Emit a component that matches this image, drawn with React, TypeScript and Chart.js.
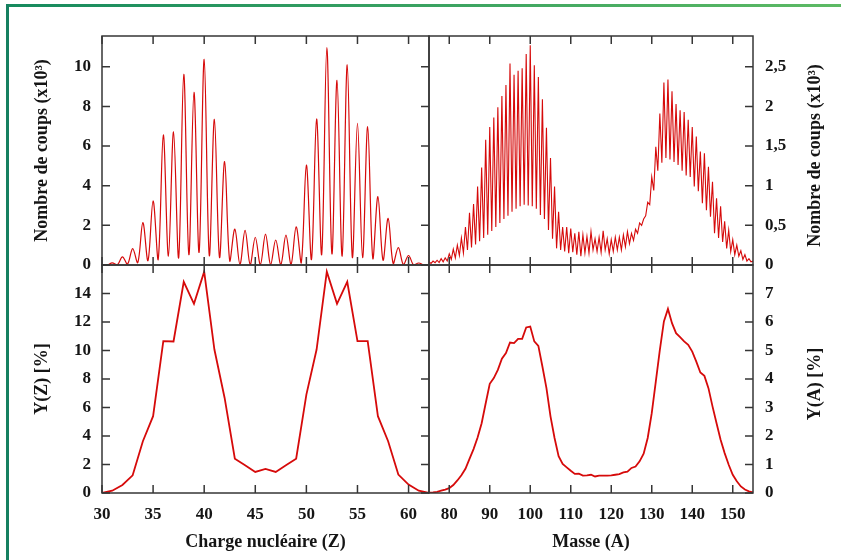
import React, { useEffect, useRef } from "react";
import { Chart, registerables } from "chart.js";

Chart.register(...registerables);

// ---------- data ----------
// Charge nucléaire (Z)
const Z_VALUES = [30, 31, 32, 33, 34, 35, 36, 37, 38, 39, 40, 41, 42, 43, 44, 45, 46, 47, 48, 49, 50, 51, 52, 53, 54, 55, 56, 57, 58, 59, 60, 61, 62];
// counts (x10^3) at each integer Z (peak of the spectrum)
const Z_COUNTS_PEAK = [0.02, 0.11, 0.41, 0.83, 2.14, 3.24, 6.56, 6.71, 9.62, 8.71, 10.37, 7.35, 5.22, 1.81, 1.75, 1.4, 1.56, 1.26, 1.51, 1.93, 5.04, 7.36, 10.97, 9.31, 10.09, 7.14, 6.98, 3.45, 2.35, 0.88, 0.48, 0.1, 0];
// counts (x10^3) in the valley between Z and Z+1
const Z_COUNTS_VALLEY = [0, 0.01, 0.05, 0.12, 0.22, 0.28, 0.45, 0.36, 0.52, 0.64, 0.48, 0.38, 0.2, 0.03, 0.02, 0.02, 0.01, 0.02, 0.03, 0.1, 0.28, 0.54, 0.56, 0.45, 0.38, 0.37, 0.33, 0.24, 0.07, 0.02, 0, 0];
// Y(Z) in %
const YIELD_Z = [0.0, 0.16, 0.56, 1.24, 3.63, 5.39, 10.66, 10.63, 14.82, 13.28, 15.53, 10.07, 6.67, 2.41, 1.94, 1.48, 1.69, 1.48, 1.94, 2.41, 6.9, 10.07, 15.53, 13.28, 14.82, 10.66, 10.66, 5.39, 3.63, 1.29, 0.59, 0.16, 0.0];

// Masse (A)
const A_VALUES = [75, 76, 77, 78, 79, 80, 81, 82, 83, 84, 85, 86, 87, 88, 89, 90, 91, 92, 93, 94, 95, 96, 97, 98, 99, 100, 101, 102, 103, 104, 105, 106, 107, 108, 109, 110, 111, 112, 113, 114, 115, 116, 117, 118, 119, 120, 121, 122, 123, 124, 125, 126, 127, 128, 129, 130, 131, 132, 133, 134, 135, 136, 137, 138, 139, 140, 141, 142, 143, 144, 145, 146, 147, 148, 149, 150, 151, 152, 153, 154, 155];
// counts (x10^3) at each integer A (peak)
const A_COUNTS_PEAK = [0.04, 0.05, 0.06, 0.08, 0.09, 0.14, 0.2, 0.25, 0.34, 0.48, 0.66, 0.77, 0.99, 1.23, 1.58, 1.74, 1.86, 1.99, 2.13, 2.27, 2.54, 2.4, 2.45, 2.48, 2.66, 2.77, 2.52, 2.37, 2.09, 1.73, 1.35, 0.99, 0.67, 0.48, 0.48, 0.46, 0.4, 0.42, 0.38, 0.36, 0.42, 0.33, 0.35, 0.43, 0.33, 0.32, 0.35, 0.35, 0.38, 0.42, 0.4, 0.45, 0.53, 0.58, 0.79, 1.11, 1.49, 1.91, 2.3, 2.34, 2.19, 2.03, 1.95, 1.93, 1.83, 1.74, 1.62, 1.43, 1.41, 1.24, 1.05, 0.84, 0.74, 0.55, 0.44, 0.32, 0.25, 0.18, 0.13, 0.08, 0.05];
// counts (x10^3) in the valley between A and A+1
const A_COUNTS_VALLEY = [0.02, 0.03, 0.03, 0.04, 0.05, 0.07, 0.09, 0.12, 0.15, 0.19, 0.22, 0.26, 0.3, 0.34, 0.38, 0.43, 0.48, 0.53, 0.58, 0.62, 0.67, 0.71, 0.74, 0.76, 0.75, 0.74, 0.71, 0.63, 0.58, 0.44, 0.33, 0.21, 0.19, 0.17, 0.15, 0.16, 0.13, 0.11, 0.15, 0.15, 0.19, 0.17, 0.16, 0.19, 0.14, 0.17, 0.19, 0.19, 0.23, 0.27, 0.31, 0.4, 0.5, 0.62, 0.76, 0.94, 1.19, 1.29, 1.35, 1.33, 1.3, 1.26, 1.19, 1.13, 1.11, 0.99, 0.93, 0.78, 0.69, 0.61, 0.4, 0.34, 0.29, 0.21, 0.17, 0.13, 0.11, 0.07, 0.05, 0.04];
// Y(A) in %
const YIELD_A = [0.01, 0.02, 0.04, 0.08, 0.12, 0.17, 0.28, 0.44, 0.62, 0.85, 1.2, 1.54, 1.95, 2.45, 3.15, 3.83, 4.03, 4.32, 4.71, 4.91, 5.28, 5.26, 5.41, 5.41, 5.81, 5.84, 5.32, 5.16, 4.44, 3.68, 2.69, 1.93, 1.29, 1.02, 0.9, 0.78, 0.67, 0.68, 0.61, 0.62, 0.64, 0.58, 0.61, 0.61, 0.61, 0.62, 0.64, 0.66, 0.72, 0.75, 0.88, 0.93, 1.11, 1.38, 1.93, 2.8, 3.91, 5.02, 6.02, 6.46, 5.96, 5.61, 5.47, 5.32, 5.2, 4.96, 4.61, 4.23, 4.11, 3.68, 3.04, 2.45, 1.87, 1.4, 0.99, 0.64, 0.41, 0.23, 0.12, 0.06, 0.02];

// tick values
const Z_TICKS = [30, 35, 40, 45, 50, 55, 60];
const A_TICKS = [80, 90, 100, 110, 120, 130, 140, 150];
const COUNTS_Z_TICKS = [0, 2, 4, 6, 8, 10];
const COUNTS_A_TICKS = [0, 0.5, 1, 1.5, 2, 2.5];
const YIELD_Z_TICKS = [0, 2, 4, 6, 8, 10, 12, 14];
const YIELD_A_TICKS = [0, 1, 2, 3, 4, 5, 6, 7];

// ---------- styles ----------
const FONT_FAMILY = "'Liberation Serif', 'Times New Roman', serif";
const RED = "#d60a0a";
const AXIS = "#363636";
const TEXT = "#151515";
const W = 841;
const H = 560;

function spectrum(xs: number[], peaks: number[], valleys: number[]) {
  const pts: { x: number; y: number }[] = [];
  xs.forEach((x, i) => {
    pts.push({ x, y: peaks[i] });
    if (i < valleys.length && i < xs.length - 1) {
      pts.push({ x: (x + xs[i + 1]) / 2, y: valleys[i] });
    }
  });
  return pts;
}

function pairs(xs: number[], ys: number[]) {
  return xs.map((x, i) => ({ x, y: ys[i] }));
}

const fmt = (v: number | string) => String(v).replace(".", ",");

const boxTicksPlugin = {
  id: "boxTicks",
  afterDatasetsDraw(chart: any, _args: any, o: any) {
    const { ctx, chartArea: a, scales } = chart;
    const len = o.tickLen;
    ctx.save();
    ctx.strokeStyle = AXIS;
    ctx.lineWidth = 1.5;
    ctx.beginPath();
    const xs = scales.x;
    const ys = scales.y;
    for (const t of xs.ticks) {
      const p = xs.getPixelForValue(t.value);
      if (o.bottom) {
        ctx.moveTo(p, a.bottom);
        ctx.lineTo(p, a.bottom - len);
      }
      if (o.top) {
        ctx.moveTo(p, a.top);
        ctx.lineTo(p, a.top + len);
      }
    }
    for (const t of ys.ticks) {
      const p = ys.getPixelForValue(t.value);
      if (o.left) {
        ctx.moveTo(a.left, p);
        ctx.lineTo(a.left + len, p);
      }
      if (o.right) {
        ctx.moveTo(a.right, p);
        ctx.lineTo(a.right - len, p);
      }
    }
    ctx.stroke();
    ctx.strokeRect(a.left, a.top, a.right - a.left, a.bottom - a.top);
    ctx.restore();
  },
};

const sideTitlePlugin = {
  id: "sideTitle",
  afterDraw(chart: any, _args: any, o: any) {
    if (!o.text) return;
    const { ctx, chartArea: a } = chart;
    ctx.save();
    ctx.font = `bold 18px ${FONT_FAMILY}`;
    ctx.fillStyle = TEXT;
    ctx.textAlign = "center";
    ctx.textBaseline = "middle";
    ctx.translate(a.right + o.dx, (a.top + a.bottom) / 2 + o.dy);
    ctx.rotate(-Math.PI / 2);
    ctx.fillText(o.text, 0, 0);
    ctx.restore();
  },
};

type PanelSpec = {
  data: { x: number; y: number }[];
  lineWidth: number;
  tension: number;
  xMin: number;
  xMax: number;
  xTicks: number[];
  yMax: number;
  yTicks: number[];
  yPos: "left" | "right";
  padding: { left: number; right: number; top: number; bottom: number };
  yWidth: number;
  xHeight: number;
  showX: boolean;
  xTitle?: string;
  yTitle?: string;
  rightTitle?: string;
  box: { top: boolean; bottom: boolean; left: boolean; right: boolean };
};

const tickFont = { family: FONT_FAMILY, size: 17, weight: "bold" as const };
const titleFont = { family: FONT_FAMILY, size: 18, weight: "bold" as const };

function makeConfig(p: PanelSpec): any {
  return {
    type: "line",
    data: {
      datasets: [
        {
          data: p.data,
          borderColor: RED,
          borderWidth: p.lineWidth,
          pointRadius: 0,
          tension: p.tension,
          fill: false,
        },
      ],
    },
    plugins: [boxTicksPlugin, sideTitlePlugin],
    options: {
      responsive: false,
      animation: false,
      devicePixelRatio: 1,
      events: [],
      layout: { padding: p.padding },
      plugins: {
        legend: { display: false },
        tooltip: { enabled: false },
        boxTicks: { tickLen: 8, ...p.box },
        sideTitle: { text: p.rightTitle || "", dx: 62, dy: 5 },
      },
      scales: {
        x: {
          type: "linear",
          position: "bottom",
          min: p.xMin,
          max: p.xMax,
          afterBuildTicks: (s: any) => {
            s.ticks = p.xTicks.map((v) => ({ value: v }));
          },
          afterFit: (s: any) => {
            s.height = p.xHeight;
          },
          grid: { display: false, drawTicks: false },
          border: { display: false },
          ticks: {
            display: p.showX,
            padding: 11,
            autoSkip: false,
            maxRotation: 0,
            font: tickFont,
            color: TEXT,
            callback: (v: number) => fmt(v),
          },
          title: {
            display: !!p.xTitle,
            text: p.xTitle || "",
            font: titleFont,
            color: TEXT,
            padding: { top: 0, bottom: 7 },
          },
        },
        y: {
          type: "linear",
          position: p.yPos,
          min: 0,
          max: p.yMax,
          afterBuildTicks: (s: any) => {
            s.ticks = p.yTicks.map((v) => ({ value: v }));
          },
          afterFit: (s: any) => {
            s.width = p.yWidth;
          },
          grid: { display: false, drawTicks: false },
          border: { display: false },
          ticks: {
            padding: p.yPos === "left" ? 11 : 12,
            autoSkip: false,
            font: tickFont,
            color: TEXT,
            callback: (v: number) => fmt(v),
          },
          title: {
            display: !!p.yTitle,
            text: p.yTitle || "",
            font: titleFont,
            color: TEXT,
            padding: { top: 32, bottom: 0 },
          },
        },
      },
    },
  };
}

// layout of the four panels (chart-area edges in page pixels)
const LEFT = 102;
const MID = 429;
const RIGHT = 753;
const TOP = 36;
const MIDY = 265;
const BOTTOM = 493;

const PANELS: PanelSpec[] = [
  {
    data: spectrum(Z_VALUES, Z_COUNTS_PEAK, Z_COUNTS_VALLEY),
    lineWidth: 1.2,
    tension: 0.35,
    xMin: 30,
    xMax: 62,
    xTicks: Z_TICKS,
    yMax: 11.55,
    yTicks: COUNTS_Z_TICKS,
    yPos: "left",
    padding: { left: 0, right: W - MID, top: TOP, bottom: H - MIDY },
    yWidth: LEFT,
    xHeight: 0,
    showX: false,
    yTitle: "Nombre de coups (x10³)",
    box: { top: true, bottom: true, left: true, right: true },
  },
  {
    data: spectrum(A_VALUES, A_COUNTS_PEAK, A_COUNTS_VALLEY),
    lineWidth: 1.1,
    tension: 0,
    xMin: 75,
    xMax: 155,
    xTicks: A_TICKS,
    yMax: 2.8875,
    yTicks: COUNTS_A_TICKS,
    yPos: "right",
    padding: { left: MID, right: 0, top: TOP, bottom: H - MIDY },
    yWidth: W - RIGHT,
    xHeight: 0,
    showX: false,
    rightTitle: "Nombre de coups (x10³)",
    box: { top: true, bottom: true, left: false, right: true },
  },
  {
    data: pairs(Z_VALUES, YIELD_Z),
    lineWidth: 1.8,
    tension: 0,
    xMin: 30,
    xMax: 62,
    xTicks: Z_TICKS,
    yMax: 16,
    yTicks: YIELD_Z_TICKS,
    yPos: "left",
    padding: { left: 0, right: W - MID, top: MIDY, bottom: 0 },
    yWidth: LEFT,
    xHeight: H - BOTTOM,
    showX: true,
    xTitle: "Charge nucléaire (Z)",
    yTitle: "Y(Z) [%]",
    box: { top: true, bottom: true, left: true, right: true },
  },
  {
    data: pairs(A_VALUES, YIELD_A),
    lineWidth: 1.8,
    tension: 0,
    xMin: 75,
    xMax: 155,
    xTicks: A_TICKS,
    yMax: 8,
    yTicks: YIELD_A_TICKS,
    yPos: "right",
    padding: { left: MID, right: 0, top: MIDY, bottom: 0 },
    yWidth: W - RIGHT,
    xHeight: H - BOTTOM,
    showX: true,
    xTitle: "Masse (A)",
    rightTitle: "Y(A) [%]",
    box: { top: true, bottom: true, left: false, right: true },
  },
];

function Panel({ spec }: { spec: PanelSpec }) {
  const ref = useRef<HTMLCanvasElement | null>(null);
  useEffect(() => {
    if (!ref.current) return;
    const chart = new Chart(ref.current, makeConfig(spec));
    return () => chart.destroy();
  }, [spec]);
  return (
    <canvas
      ref={ref}
      width={W}
      height={H}
      style={{ position: "absolute", left: 0, top: 0, width: W, height: H }}
    />
  );
}

export default function App() {
  return (
    <div
      style={{
        position: "absolute",
        left: 0,
        top: 0,
        width: W,
        height: H,
        overflow: "hidden",
        background: "#ffffff",
      }}
    >
      <div
        style={{
          position: "absolute",
          left: 6,
          top: 4,
          right: 0,
          height: 3,
          background: "linear-gradient(to right, #168a5e, #5dba64)",
        }}
      />
      <div
        style={{
          position: "absolute",
          left: 6,
          top: 4,
          width: 3,
          bottom: 0,
          background: "#168060",
        }}
      />
      {PANELS.map((spec, i) => (
        <Panel key={i} spec={spec} />
      ))}
    </div>
  );
}
